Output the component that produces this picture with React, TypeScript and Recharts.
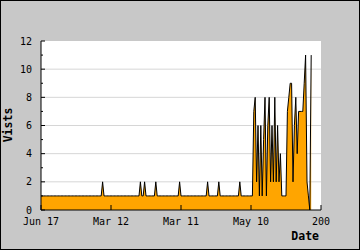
import React from 'react';
import { AreaChart, Area, XAxis, YAxis, CartesianGrid } from 'recharts';

// daily visit counts, one per day
const visits = [
    1, 1, 1, 1, 1, 1, 1, 1, 1, 1,
    1, 1, 1, 1, 1, 1, 1, 1, 1, 1,
    1, 1, 1, 1, 1, 1, 1, 1, 1, 1,
    1, 1, 1, 1, 1, 1, 1, 1, 1, 1,
    1, 1, 1, 1, 2, 1, 1, 1, 1, 1,
    1, 1, 1, 1, 1, 1, 1, 1, 1, 1,
    1, 1, 1, 1, 1, 1, 1, 1, 1, 1,
    1, 2, 1, 1, 2, 1, 1, 1, 1, 1,
    1, 1, 2, 1, 1, 1, 1, 1, 1, 1,
    1, 1, 1, 1, 1, 1, 1, 1, 1, 2,
    1, 1, 1, 1, 1, 1, 1, 1, 1, 1,
    1, 1, 1, 1, 1, 1, 1, 1, 1, 2,
    1, 1, 1, 1, 1, 1, 1, 2, 1, 1,
    1, 1, 1, 1, 1, 1, 1, 1, 1, 1,
    1, 1, 2, 1, 1, 1, 1, 1, 1, 1,
    1, 1, 7, 8, 2, 6, 1, 6, 1, 5,
    8, 1, 6, 8, 2, 6, 2, 8, 2, 6,
    2, 4, 1, 1, 1, 1, 7, 8, 9, 9,
    2, 6, 8, 4, 7, 7, 7, 7, 9, 11,
    2, 1, 0, 11,
];

const xTicks = [0, 50, 100, 150, 200];
const xTickLabels = ['Jun 17', 'Mar 12', 'Mar 11', 'May 10', '200'];
const yTicks = [0, 1, 2, 3, 4, 5, 6, 7, 8, 9, 10, 11, 12];
const gridValues = [2, 4, 6, 8, 10];

const data = visits.map((v, i) => ({ day: i, visits: v }));

const FONT = '"DejaVu Sans Mono", monospace';

const YTick = (props: any) => {
    const { x, y, payload } = props;
    const major = payload.value % 2 === 0;
    return (
        <g>
            <line x1={x} y1={y} x2={x + (major ? 4 : 2)} y2={y} stroke="#000" />
            {major && (
                <text x={x - 9} y={y + 3.6} textAnchor="end" fontSize={10} fontFamily={FONT} fill="#000">
                    {payload.value}
                </text>
            )}
        </g>
    );
};

const XTick = (props: any) => {
    const { x, y, payload, index } = props;
    return (
        <g>
            <line x1={x} y1={y} x2={x} y2={y - 5} stroke="#000" />
            <text x={x} y={y + 15} textAnchor="middle" fontSize={10} fontFamily={FONT} fill="#000">
                {xTickLabels[index]}
            </text>
        </g>
    );
};

export default function App() {
    return (
        <div style={{ position: 'fixed', top: 0, left: 0, width: 360, height: 250, background: '#c8c8c8' }}>
            <AreaChart width={360} height={250} data={data} margin={{ top: 41, right: 39, bottom: 0, left: 0 }}>
                <CartesianGrid
                    vertical={false}
                    stroke="#d6d6d6"
                    fill="#ffffff"
                    horizontalValues={gridValues}
                />
                <Area
                    type="linear"
                    dataKey="visits"
                    stroke="#000"
                    strokeWidth={1}
                    fill="#ffa500"
                    fillOpacity={1}
                    isAnimationActive={false}
                    dot={false}
                    activeDot={false}
                />
                <XAxis
                    dataKey="day"
                    type="number"
                    domain={[0, 200]}
                    ticks={xTicks}
                    interval={0}
                    height={40}
                    tickSize={0}
                    tickMargin={0}
                    tickLine={false}
                    stroke="#000"
                    tick={<XTick />}
                    label={{
                        content: () => (
                            <text x={319} y={240} textAnchor="end" fontSize={11.5} fontWeight="bold" fontFamily={FONT} fill="#000">
                                Date
                            </text>
                        ),
                    }}
                />
                <YAxis
                    domain={[0, 12]}
                    ticks={yTicks}
                    interval={0}
                    width={41}
                    tickSize={0}
                    tickMargin={0}
                    tickLine={false}
                    stroke="#000"
                    tick={<YTick />}
                    label={{
                        content: () => (
                            <text x={12} y={125} transform="rotate(-90 12 125)" textAnchor="middle" fontSize={11.5} fontWeight="bold" fontFamily={FONT} fill="#000">
                                Vists
                            </text>
                        ),
                    }}
                />
            </AreaChart>
            <div style={{ position: 'absolute', inset: 0, border: '1px solid #000', pointerEvents: 'none' }} />
        </div>
    );
}
